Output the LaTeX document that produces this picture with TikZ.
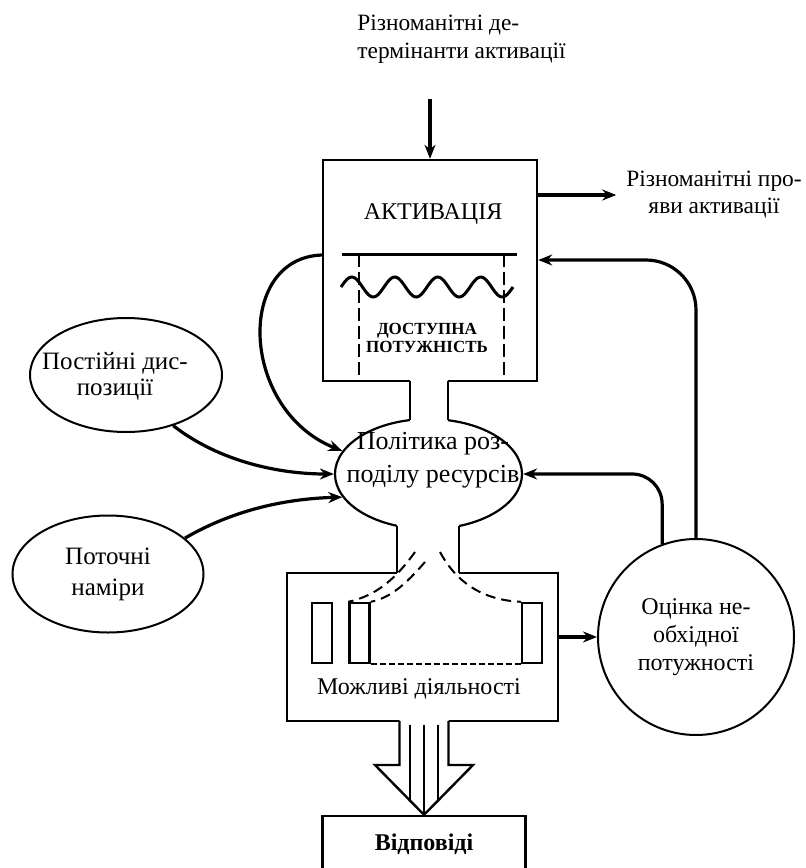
\documentclass[tikz,border=0pt]{standalone}
\usepackage{fontspec}
\setmainfont{Liberation Serif}
\usetikzlibrary{shapes.geometric,arrows.meta,calc}

\begin{document}
\begin{tikzpicture}[
            x=0.5pt, y=0.5pt,
            every node/.style={
                font=\fontsize{12}{14}\selectfont,
                inner sep=0pt
            },
            outline/.style={
                line width=1.2pt
            },
            box/.style={
                rectangle,
                draw,
                outline
            },
            blob/.style={
                ellipse,
                draw,
                line width=1pt
            },
            slot/.style={
                box,
                minimum width=10pt,
                minimum height=30pt
            },
            conn/.style={
                line width=1.6pt,
                -{Stealth[length=7pt, width=5.5pt]}
            },
            dashline/.style={
                line width=1pt,
                dash pattern=on 5pt off 3pt
            },
        ]

            \useasboundingbox (0,0) rectangle (806,-868);

            % activation block, resource policy and activities
            \node[box, minimum width=107pt, minimum height=110.5pt] (act) at (430,-270.5) {};
            \node[blob, line width=1.1pt, minimum width=93.5pt, minimum height=55pt] (policy) at (428.5,-474) {};
            \node[box, minimum width=135.5pt, minimum height=74pt] (acts) at (422.5,-647) {};
            \node[box, minimum width=101.5pt, minimum height=28pt] (resp) at (424,-844) {\textbf{Відповіді}};

            % necks between the blocks
            \fill[white] (410,-379) rectangle (448,-423);
            \fill[white] (397,-523) rectangle (459,-575);
            \draw[outline] (410,-381) -- (410,-420.1) (448,-381) -- (448,-420.2);
            \draw[outline] (397,-525.8) -- (397,-573) (459,-526) -- (459,-573);

            % wide output arrow
            \fill[white] (399.5,-719) -- (399.5,-765) -- (375,-765) -- (resp.north)
                -- (473,-765) -- (448.5,-765) -- (448.5,-719) -- cycle;
            \draw[outline, line join=miter] (399.5,-721) -- (399.5,-765) -- (375,-765) -- (resp.north)
                -- (473,-765) -- (448.5,-765) -- (448.5,-721);
            \foreach \xx/\yy in {410/-801, 424/-815, 438/-801}
                \draw[line width=0.7pt] (\xx,-725) -- (\xx,\yy);

            % inside the activation block
            \node (acttitle) at (433,-213.7) {АКТИВАЦІЯ};
            \draw[line width=1.5pt] (342,-254) -- (517,-254);
            \draw[line width=1pt, dash pattern=on 6.5pt off 2.5pt] (359,-254) -- (359,-381) (504,-254) -- (504,-381);
            \draw[line width=1.5pt] plot[domain=341:513, samples=90, smooth] (\x,{-287+10*sin(8.3721*(\x-341))});
            \node[font=\bfseries\fontsize{8.5}{9}\selectfont, align=center] (avail) at (427,-338.3) {ДОСТУПНА\\ПОТУЖНІСТЬ};

            \node[align=center, font=\fontsize{13}{16.5}\selectfont] (policytxt) at (433,-460.5) {Політика роз-\\поділу ресурсів};

            % possible activities
            \foreach \sx/\nm in {322/slotA, 359.5/slotB, 532/slotC}
                \node[slot] (\nm) at (\sx,-633) {};
            \draw[line width=1pt, dash pattern=on 3pt off 1.5pt] (slotB.south east) -- (slotC.south west);
            \coordinate (forkA) at (415,-552);
            \coordinate (forkB) at (425,-562);
            \coordinate (forkC) at (440,-552);
            \draw[dashline] (forkA) .. controls (395,-580) and (375,-596) .. (slotB.north west);
            \draw[dashline] (forkB) .. controls (405,-585) and (390,-598) .. (slotB.north east);
            \draw[dashline] (forkC) .. controls (455,-580) and (480,-600) .. (slotC.north west);
            \node (actstxt) at (419,-689) {Можливі діяльності};

            % inputs on the left
            \node[blob, minimum width=96pt, minimum height=57pt] (perm) at (126,-375) {};
            \node[align=center, font=\fontsize{12.5}{13}\selectfont] (permtxt) at (115,-376) {Постійні дис-\\позиції};
            \node[blob, minimum width=95.5pt, minimum height=58.5pt, align=center,
                font=\fontsize{12.5}{15.5}\selectfont] (cur) at (108,-574) {Поточні\\наміри};

            % evaluation on the right
            \node[circle, draw, line width=1pt, minimum size=98pt, align=center] (est) at (696,-637) {Оцінка не-\\обхідної\\потужності};

            % free labels
            \node[align=left, anchor=west, font=\fontsize{11.7}{14}\selectfont] (det) at (357,-39) {Різноманітні де-\\термінанти активації};
            \node[align=center, font=\fontsize{11.7}{13.5}\selectfont] (manif) at (714,-195) {Різноманітні про-\\яви активації};

            % connections
            \draw[conn] ([yshift=30pt]act.north) -- (act.north);
            \draw[conn] ([yshift=37.75pt]act.east) -- ++(39pt,0);
            \draw[conn] ([yshift=7.75pt]act.west) .. controls (235,-258) and (240,-410) .. (policy.165);
            \draw[conn] (perm.-47) .. controls (220,-462) and (280,-474) .. (policy.west);
            \draw[conn] (cur.25) .. controls (230,-512) and (280,-499) .. (policy.195);
            \draw[conn, rounded corners=25pt] (est.north) |- ([yshift=5.25pt]act.east);
            \draw[conn, rounded corners=15pt] (est.110) |- (policy.east);
            \draw[conn] (acts.east |- est.west) -- (est.west);
        \end{tikzpicture}
\end{document}
